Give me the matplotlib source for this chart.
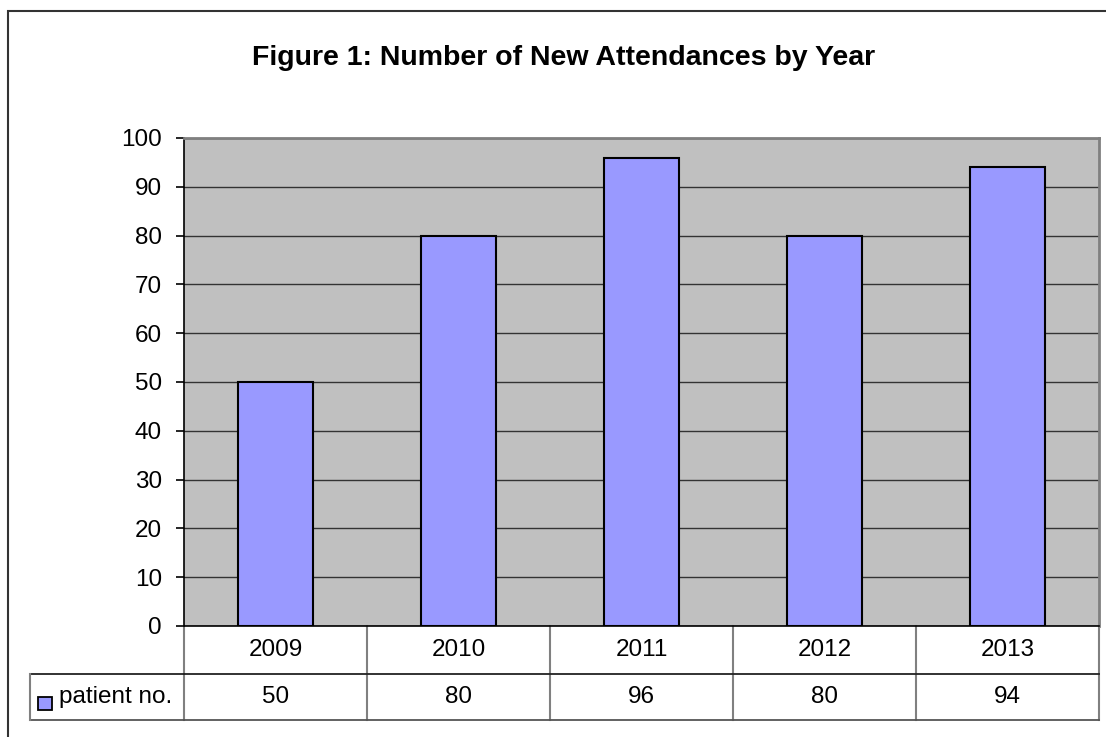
import matplotlib.pyplot as plt
from matplotlib.patches import Rectangle
from matplotlib.transforms import blended_transform_factory

plt.rcParams['font.family'] = ['Liberation Sans', 'DejaVu Sans']

# data
years = ['2009', '2010', '2011', '2012', '2013']
patients = [50, 80, 96, 80, 94]
series_name = 'patient no.'
title = 'Figure 1: Number of New Attendances by Year'

W, H = 1106, 737
fs = 17.5
fig = plt.figure(figsize=(W / 100, H / 100), dpi=100)

# outer chart border (right/bottom run off the picture)
fig.patches.append(Rectangle((8 / W, -0.01), 1.1, 1 - 11 / H + 0.01, transform=fig.transFigure,
                             fill=False, edgecolor='#333333', linewidth=1.5))

left, right, top, bottom = 184, 1099, 138, 626
ax = fig.add_axes([left / W, 1 - bottom / H, (right - left) / W, (bottom - top) / H])
ax.set_facecolor('#C0C0C0')

x = list(range(len(years)))
ax.bar(x, patients, width=0.41, color='#9999FF', edgecolor='black', linewidth=1.5, zorder=3)

ax.set_xlim(-0.5, len(years) - 0.5)
ax.set_ylim(0, 100)
ax.set_yticks(range(0, 101, 10))
ax.yaxis.grid(True, color='#333333', linewidth=1.0, zorder=1)
ax.set_axisbelow(True)
ax.set_xticks([])
ax.tick_params(axis='y', length=5.8, width=1.2, pad=10, labelsize=fs, direction='out')

for s in ['top', 'right']:
    ax.spines[s].set_color('#808080')
    ax.spines[s].set_linewidth(2)
ax.spines['left'].set_color('black')
ax.spines['left'].set_linewidth(1.2)
ax.spines['bottom'].set_color('black')
ax.spines['bottom'].set_linewidth(1.2)

fig.text(564 / W, 1 - 58 / H, title, ha='center', va='center',
         fontsize=20.5, fontweight='bold')

# data table under the plot
ph = bottom - top
tr = blended_transform_factory(ax.transData, ax.transAxes)
r1 = -(674 - bottom) / ph
r2 = -(720 - bottom) / ph
xl, xr = -0.5, len(years) - 0.5

for i in range(len(years) + 1):
    ax.plot([i - 0.5, i - 0.5], [0, r2], transform=tr, color='#808080',
            linewidth=1.5, clip_on=False)
ax.plot([xl, xr], [r1, r1], transform=tr, color='#222222', linewidth=1.3, clip_on=False)
ax.plot([xl, xr], [r2, r2], transform=tr, color='#555555', linewidth=1.3, clip_on=False)

# legend cell on the left of row 2
fig_tr = fig.transFigure
y1, y2 = 1 - 674 / H, 1 - 720 / H
fig.add_artist(plt.Line2D([30 / W, left / W], [y1, y1], transform=fig_tr,
                          color='#222222', linewidth=1.3))
fig.add_artist(plt.Line2D([30 / W, left / W], [y2, y2], transform=fig_tr,
                          color='#555555', linewidth=1.3))
fig.add_artist(plt.Line2D([30 / W, 30 / W], [y1, y2], transform=fig_tr,
                          color='#808080', linewidth=1.5))
fig.patches.append(Rectangle((38 / W, 1 - 710 / H), 14 / W, 13 / H, transform=fig_tr,
                             facecolor='#9999FF', edgecolor='black', linewidth=1.3))
fig.text(59 / W, 1 - 697 / H, series_name, ha='left', va='center', fontsize=fs)

for i, (yr, v) in enumerate(zip(years, patients)):
    ax.text(i, (0 + r1) / 2, yr, transform=tr, ha='center', va='center', fontsize=fs)
    ax.text(i, (r1 + r2) / 2, str(v), transform=tr, ha='center', va='center', fontsize=fs)

fig.savefig('out.png', dpi=100)
